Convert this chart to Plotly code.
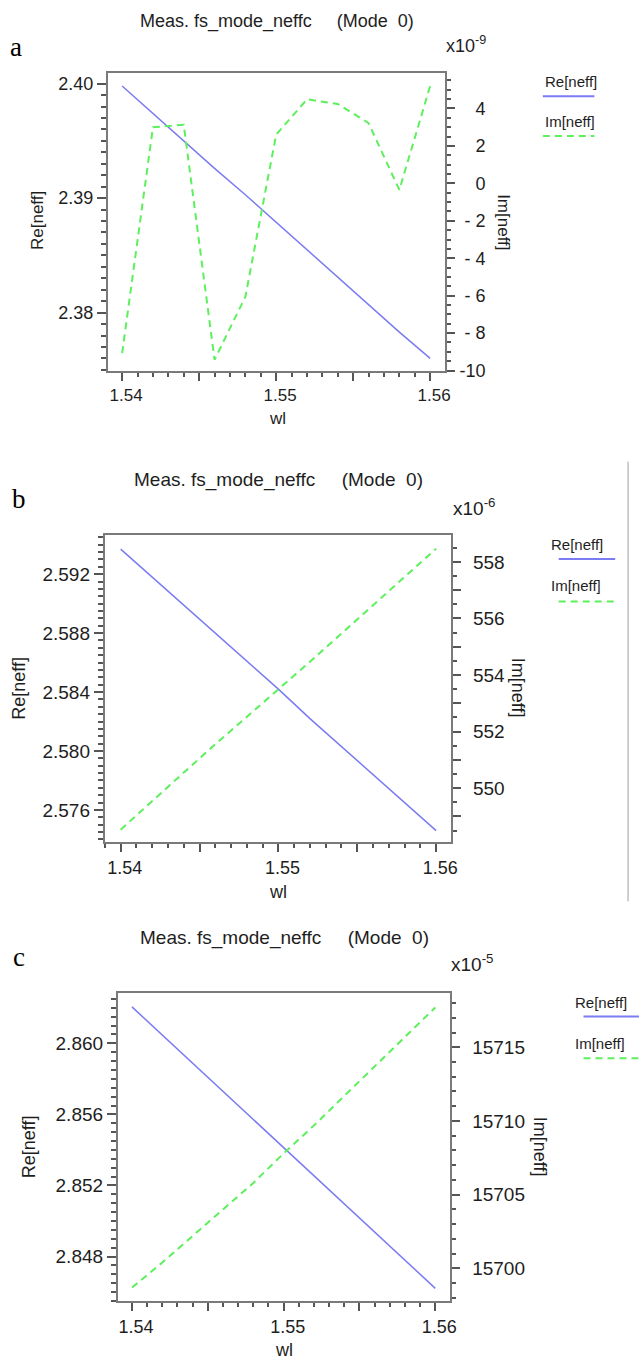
import plotly.graph_objects as go

W, H = 640, 1371

# Wavelength sweep (um)
wl = [1.540, 1.542, 1.544, 1.546, 1.548, 1.550, 1.552, 1.554, 1.556, 1.558, 1.560]

# (a) effective index, Im part in units of 1e-9
re_a = [2.3998, 2.3974, 2.3950, 2.3926, 2.3903, 2.3879, 2.3855, 2.3831, 2.3807, 2.3783, 2.3760]
im_a = [-9.07, 3.00, 3.13, -9.42, -6.06, 2.60, 4.49, 4.24, 3.22, -0.35, 5.20]

# (b) effective index, Im part in units of 1e-6
re_b = [2.5937, 2.5918, 2.5899, 2.5880, 2.5861, 2.5842, 2.5822, 2.5803, 2.5784, 2.5765, 2.5746]
im_b = [548.53, 549.55, 550.55, 551.55, 552.52, 553.48, 554.47, 555.47, 556.47, 557.47, 558.47]

# (c) effective index, Im part in units of 1e-5
re_c = [2.86205, 2.86047, 2.85888, 2.85730, 2.85571, 2.85413, 2.85254, 2.85096, 2.84938, 2.84779, 2.84621]
im_c = [15698.7, 15700.4, 15702.2, 15704.0, 15705.8, 15707.8, 15709.7, 15711.7, 15713.7, 15715.7, 15717.7]

x_ticks = [1.54, 1.545, 1.55, 1.555, 1.56]
x_ticktext = ["1.54", "", "1.55", "", "1.56"]

re_ticks_a = [2.38, 2.39, 2.40]
re_text_a = ["2.38", "2.39", "2.40"]
im_ticks_a = [-10, -8, -6, -4, -2, 0, 2, 4]
im_text_a = ["-10", "-\u00a08", "-\u00a06", "-\u00a04", "-\u00a02", "0", "2", "4"]

re_ticks_b = [2.576, 2.580, 2.584, 2.588, 2.592]
re_text_b = ["2.576", "2.580", "2.584", "2.588", "2.592"]
im_ticks_b = [549, 550, 551, 552, 553, 554, 555, 556, 557, 558]
im_text_b = ["", "550", "", "552", "", "554", "", "556", "", "558"]

re_ticks_c = [2.848, 2.852, 2.856, 2.860]
re_text_c = ["2.848", "2.852", "2.856", "2.860"]
im_ticks_c = [15700, 15705, 15710, 15715]
im_text_c = ["15700", "15705", "15710", "15715"]

TITLE = "Meas. fs_mode_neffc\u00a0\u00a0\u00a0\u00a0\u00a0(Mode\u00a0\u00a00)"
FONT = "Liberation Sans, Arial, sans-serif"
SERIF = "Liberation Serif, Times New Roman, serif"
INK = "#1e1e1e"
AXIS = "#7a7a7a"
TICK = "#555555"
BLUE = "#7b7bf2"
GREEN = "#5cf05c"


def px(x):
    return x / W


def py(y):
    return 1 - y / H


panels = [
    dict(box=(109, 74, 449, 373.3), xr=[1.53908, 1.56095],
         re=re_a, im=im_a, rr=[2.37494, 2.40089], ir=[-10.0, 5.87],
         rt=re_ticks_a, rtt=re_text_a, rminor=0.001,
         it=im_ticks_a, itt=im_text_a, iminor=0.5,
         fs=18, letter="a", letter_xy=(16, 47), title_xy=(280, 22),
         exp="x10<sup>-9</sup>", exp_xy=(470, 45),
         ytitle_l=(38, 222), ytitle_r=(508, 224), wl_xy=(280, 422),
         leg=dict(tx=548, ry=82, iy=122, lx0=548, lx1=600, rly=97, ily=137)),
    dict(box=(105.8, 539.3, 455.4, 848.3), xr=[1.538995, 1.56095],
         re=re_b, im=im_b, rr=[2.57382, 2.59463], ir=[548.09, 558.94],
         rt=re_ticks_b, rtt=re_text_b, rminor=0.0005,
         it=im_ticks_b, itt=im_text_b, iminor=0.5,
         fs=19, letter="b", letter_xy=(19, 503), title_xy=(281, 484),
         exp="x10<sup>-6</sup>", exp_xy=(478, 511),
         ytitle_l=(19, 693), ytitle_r=(523, 693), wl_xy=(281, 899),
         leg=dict(tx=554, ry=548, iy=590, lx0=564, lx1=621, rly=563, ily=606)),
    dict(box=(119, 1000, 454.6, 1310.7), xr=[1.53907, 1.56099],
         re=re_c, im=im_c, rr=[2.84549, 2.86285], ir=[15697.78, 15718.70],
         rt=re_ticks_c, rtt=re_text_c, rminor=0.0005,
         it=im_ticks_c, itt=im_text_c, iminor=1,
         fs=19, letter="c", letter_xy=(19, 964), title_xy=(287, 945),
         exp="x10<sup>-5</sup>", exp_xy=(476, 970),
         ytitle_l=(29, 1155), ytitle_r=(546, 1155), wl_xy=(287, 1360),
         leg=dict(tx=578, ry=1010, iy=1051, lx0=589, lx1=645, rly=1024, ily=1066)),
]

fig = go.Figure()
layout = {}
annotations = []
shapes = []

for i, p in enumerate(panels):
    x0, y0, x1, y1 = p["box"]
    xn = "x" if i == 0 else f"x{i + 1}"
    yl_idx = 2 * i + 1
    yr_idx = 2 * i + 2
    yl = "y" if yl_idx == 1 else f"y{yl_idx}"
    yr = f"y{yr_idx}"
    fs = p["fs"]

    fig.add_trace(go.Scatter(x=wl, y=p["re"], xaxis=xn, yaxis=yl, mode="lines",
                             line=dict(color=BLUE, width=1.5), showlegend=False))
    fig.add_trace(go.Scatter(x=wl, y=p["im"], xaxis=xn, yaxis=yr, mode="lines",
                             line=dict(color=GREEN, width=2, dash="7px,5px"), showlegend=False))

    xkey = "xaxis" if i == 0 else f"xaxis{i + 1}"
    layout[xkey] = dict(
        domain=[px(x0), px(x1)], anchor=yl, range=p["xr"],
        showline=True, linecolor=AXIS, linewidth=2, mirror=True,
        ticks="outside", ticklen=8, tickwidth=1.5, tickcolor=TICK,
        tickvals=x_ticks, ticktext=x_ticktext, ticklabelshift=4,
        minor=dict(dtick=0.001, tick0=1.54, ticks="outside", ticklen=4,
                   tickwidth=1.5, tickcolor=TICK, showgrid=False),
        tickfont=dict(family=FONT, size=fs - 1, color=INK),
        showgrid=False, zeroline=False, fixedrange=True,
    )
    lkey = "yaxis" if yl_idx == 1 else f"yaxis{yl_idx}"
    layout[lkey] = dict(
        domain=[py(y1), py(y0)], anchor=xn, range=p["rr"],
        showline=True, linecolor=AXIS, linewidth=2,
        ticks="outside", ticklen=9, tickwidth=1.5, tickcolor=TICK,
        tickvals=p["rt"], ticktext=p["rtt"],
        minor=dict(dtick=p["rminor"], tick0=p["rt"][0], ticks="outside", ticklen=5,
                   tickwidth=1.5, tickcolor=TICK, showgrid=False),
        tickfont=dict(family=FONT, size=fs, color=INK),
        showgrid=False, zeroline=False, fixedrange=True,
    )
    rkey = f"yaxis{yr_idx}"
    layout[rkey] = dict(
        domain=[py(y1), py(y0)], anchor=xn, overlaying=yl, side="right",
        range=p["ir"],
        showline=True, linecolor=AXIS, linewidth=2,
        ticks="outside", ticklen=8, tickwidth=1.5, tickcolor=TICK,
        tickvals=p["it"], ticktext=p["itt"],
        minor=dict(dtick=p["iminor"], tick0=p["it"][0], ticks="outside", ticklen=4,
                   tickwidth=1.5, tickcolor=TICK, showgrid=False),
        tickfont=dict(family=FONT, size=fs, color=INK),
        ticklabelstandoff=8,
        showgrid=False, zeroline=False, fixedrange=True,
    )
    if i == 0:
        # right-aligned labels for the signed Im scale: a left-side axis
        # parked to the right of the frame carries the text
        layout[rkey]["showticklabels"] = False
        layout["yaxis7"] = dict(
            domain=[py(y1), py(y0)], anchor="free", overlaying=yl, side="left",
            position=px(490), range=p["ir"], showline=False, ticks="",
            tickvals=p["it"], ticktext=p["itt"],
            tickfont=dict(family=FONT, size=fs, color=INK),
            showgrid=False, zeroline=False, fixedrange=True,
        )
        fig.add_trace(go.Scatter(x=wl, y=p["im"], xaxis=xn, yaxis="y7", mode="lines",
                                 line=dict(color="rgba(0,0,0,0)", width=0),
                                 hoverinfo="skip", showlegend=False))

    # headings and axis titles
    annotations += [
        dict(text=p["letter"], x=px(p["letter_xy"][0]), y=py(p["letter_xy"][1]),
             font=dict(family=SERIF, size=27, color="#000")),
        dict(text=TITLE, x=px(p["title_xy"][0]), y=py(p["title_xy"][1]),
             font=dict(family=FONT, size=fs, color=INK)),
        dict(text=p["exp"], x=px(p["exp_xy"][0]), y=py(p["exp_xy"][1]),
             font=dict(family=FONT, size=fs, color=INK)),
        dict(text="Re[neff]", x=px(p["ytitle_l"][0]), y=py(p["ytitle_l"][1]), textangle=-90,
             font=dict(family=FONT, size=fs - 1, color=INK)),
        dict(text="Im[neff]", x=px(p["ytitle_r"][0]), y=py(p["ytitle_r"][1]), textangle=90,
             font=dict(family=FONT, size=fs - 1, color=INK)),
        dict(text="wl", x=px(p["wl_xy"][0]), y=py(p["wl_xy"][1]),
             font=dict(family=FONT, size=fs - 1, color=INK)),
    ]

    # series key
    lg = p["leg"]
    annotations += [
        dict(text="Re[neff]", x=px(lg["tx"]), y=py(lg["ry"]), xanchor="left",
             font=dict(family=FONT, size=15, color=INK)),
        dict(text="Im[neff]", x=px(lg["tx"]), y=py(lg["iy"]), xanchor="left",
             font=dict(family=FONT, size=15, color=INK)),
    ]
    shapes += [
        dict(type="line", xref="paper", yref="paper",
             x0=px(lg["lx0"]), x1=px(lg["lx1"]), y0=py(lg["rly"]), y1=py(lg["rly"]),
             line=dict(color=BLUE, width=2)),
        dict(type="line", xref="paper", yref="paper",
             x0=px(lg["lx0"]), x1=px(lg["lx1"]), y0=py(lg["ily"]), y1=py(lg["ily"]),
             line=dict(color=GREEN, width=2, dash="7px,5px")),
    ]

# frame edge beside panel b
shapes.append(dict(type="line", xref="paper", yref="paper",
                   x0=px(634), x1=px(634), y0=py(465), y1=py(908),
                   line=dict(color="#a0a0a0", width=1)))

for a in annotations:
    a.setdefault("xref", "paper")
    a.setdefault("yref", "paper")
    a.setdefault("showarrow", False)
    a.setdefault("xanchor", "center")
    a.setdefault("yanchor", "middle")

fig.update_layout(
    width=W, height=H,
    margin=dict(l=0, r=0, t=0, b=0),
    paper_bgcolor="white", plot_bgcolor="white",
    showlegend=False,
    annotations=annotations, shapes=shapes,
    **layout,
)

fig.write_html("out.html", config={"displayModeBar": False})
